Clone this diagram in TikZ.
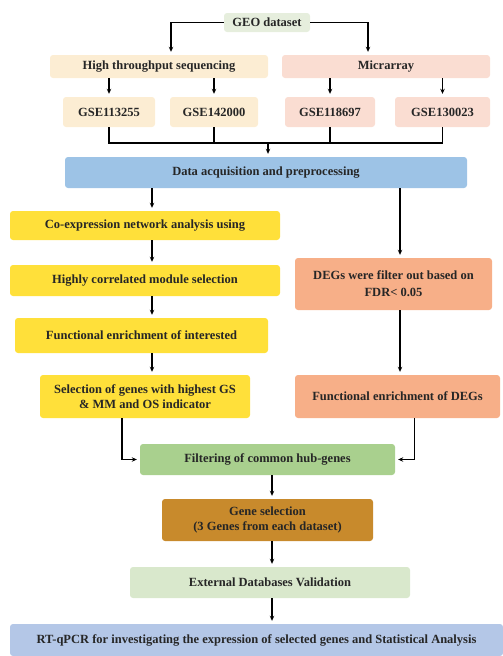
\documentclass[tikz,border=0pt]{standalone}
\usepackage{fontspec}
\setmainfont{Liberation Serif}
\usetikzlibrary{arrows.meta, positioning}

\definecolor{geoC}{HTML}{E6EEDD}
\definecolor{seqC}{HTML}{FCEDD3}
\definecolor{micC}{HTML}{FADDD2}
\definecolor{dataC}{HTML}{9DC3E6}
\definecolor{yelC}{HTML}{FFE03A}
\definecolor{degC}{HTML}{F7AF88}
\definecolor{filtC}{HTML}{A9D08E}
\definecolor{geneC}{HTML}{C88A2C}
\definecolor{extC}{HTML}{D9E8CC}
\definecolor{rtC}{HTML}{B4C7E7}

\begin{document}
\begin{tikzpicture}[x=1pt, y=-1pt,
		box/.style={rounded corners=3pt, inner sep=2pt, align=center, text=black!85,
			font=\bfseries\fontsize{12.5}{15}\selectfont},
		arr/.style={-{Stealth[length=5pt, width=4.5pt]}, line width=1.1pt, shorten >=3pt},
		bus/.style={line width=1.1pt}]
	\useasboundingbox (0,0) rectangle (503,656);
	
	\node[box, fill=geoC, minimum width=86pt, minimum height=19pt] (geo) at (267,22.5) {GEO dataset};
	\node[box, fill=seqC, minimum width=218pt, minimum height=23pt] (hts) at (159,66.5) {High throughput sequencing};
	\node[box, fill=micC, minimum width=208pt, minimum height=23pt] (mic) at (386,66.5) {Micrarray};
	
	\node[box, fill=seqC, minimum width=92pt, minimum height=30pt] (gse1) at (109,112) {GSE113255};
	\node[box, fill=seqC, minimum width=88pt, minimum height=30pt] (gse2) at (214,112) {GSE142000};
	\node[box, fill=micC, minimum width=90pt, minimum height=30pt] (gse3) at (330,112) {GSE118697};
	\node[box, fill=micC, minimum width=95pt, minimum height=30pt] (gse4) at (442.5,112) {GSE130023};
	
	\node[box, fill=dataC, minimum width=402pt, minimum height=31pt] (data) at (266,172.5) {Data acquisition and preprocessing};
	
	\node[box, fill=yelC, minimum width=270pt, minimum height=29pt] (coexp) at (145,225.5) {Co-expression network analysis using};
	\node[box, fill=yelC, minimum width=270pt, minimum height=31pt] (hcm) at (145,280.5) {Highly correlated module selection};
	\node[box, fill=yelC, minimum width=253pt, minimum height=35pt] (fei) at (141.5,335.5) {Functional enrichment of interested};
	\node[box, fill=yelC, minimum width=210pt, minimum height=43pt] (sel) at (145,396.5) {Selection of genes with highest GS\\\& MM and OS indicator};
	
	\node[box, fill=degC, minimum width=197pt, minimum height=52pt, font=\bfseries\fontsize{12.5}{17}\selectfont] (degs) at (393.5,284) {DEGs were filter out based on\\FDR< 0.05};
	\node[box, fill=degC, minimum width=205pt, minimum height=43pt] (fedeg) at (397.5,396.5) {Functional enrichment of DEGs};
	
	\node[box, fill=filtC, minimum width=255pt, minimum height=31pt] (filt) at (267.5,459.5) {Filtering of common hub-genes};
	\node[box, fill=geneC, minimum width=211pt, minimum height=42pt] (gene) at (267.5,520) {Gene selection\\(3 Genes from each dataset)};
	\node[box, fill=extC, minimum width=280pt, minimum height=31pt] (ext) at (270,582.5) {External Databases Validation};
	\node[box, fill=rtC, minimum width=493pt, minimum height=32pt] (rt) at (256.5,640) {RT-qPCR for investigating the expression of selected genes and Statistical Analysis};
	
	\coordinate (colx) at (152,0);
	\coordinate (degx) at (400,0);
	\coordinate (busy) at (268,143);
	\coordinate (lowx) at (272,0);
	
	\draw[arr] (geo.west) -| ([xshift=12pt]hts.north);
	\draw[arr] (geo.east) -| ([xshift=-18pt]mic.north);
	\foreach \g in {gse1, gse2} \draw[arr] (hts.south -| \g.north) -- (\g.north);
	\foreach \g in {gse3, gse4} \draw[arr] (mic.south -| \g.north) -- (\g.north);
	
	\draw[bus] (gse1.south) |- (busy) -| (gse4.south);
	\foreach \g in {gse2, gse3} \draw[bus] (\g.south) -- (\g.south |- busy);
	\draw[arr] (busy) -- (data.north -| busy);
	
	\draw[arr] (data.south -| colx) -- (coexp.north -| colx);
	\draw[arr] (coexp.south -| colx) -- (hcm.north -| colx);
	\draw[arr] (hcm.south -| colx) -- (fei.north -| colx);
	\draw[arr] (fei.south -| colx) -- (sel.north -| colx);
	
	\draw[arr] (data.south -| degx) -- (degs.north -| degx);
	\draw[arr] (degs.south -| degx) -- (fedeg.north -| degx);
	
	\draw[arr] ([xshift=-23pt]sel.south) |- (filt.west);
	\draw[arr] ([xshift=17pt]fedeg.south) |- (filt.east);
	
	\draw[arr] (filt.south -| lowx) -- (gene.north -| lowx);
	\draw[arr] (gene.south -| lowx) -- (ext.north -| lowx);
	\draw[arr] (ext.south -| lowx) -- (rt.north -| lowx);
\end{tikzpicture}
\end{document}
